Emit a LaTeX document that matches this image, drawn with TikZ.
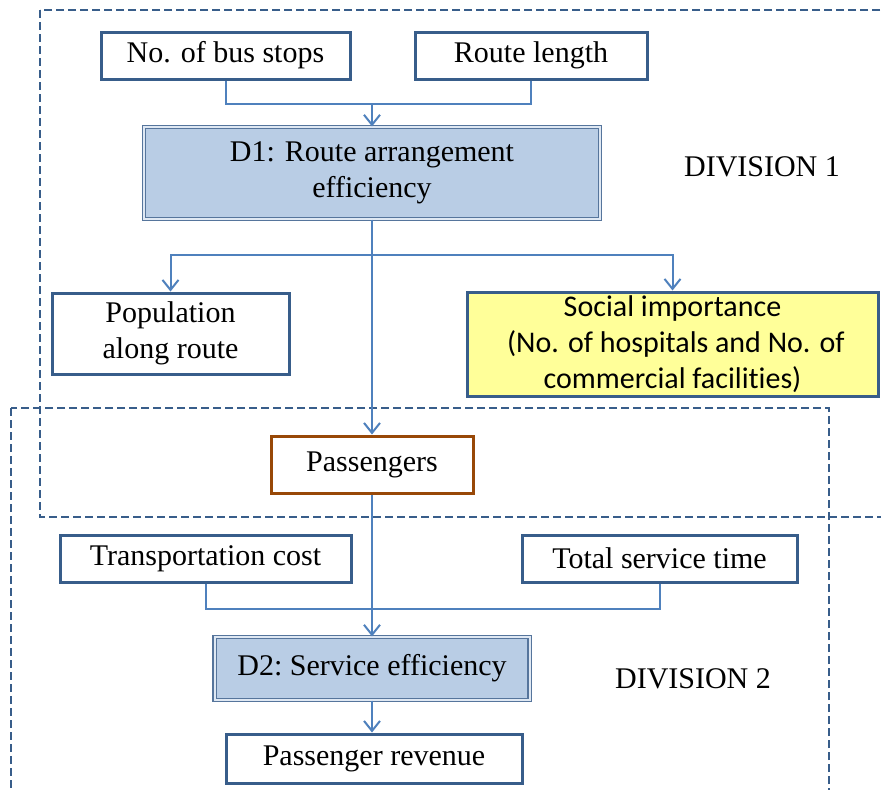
\documentclass[tikz,border=0pt]{standalone}
\usepackage{fontspec}
\setmainfont{Liberation Serif}
\newfontfamily\calib[Ligatures={NoCommon,NoDiscretionary,NoContextual}]{Carlito}
\usetikzlibrary{arrows.meta}
\definecolor{boxblue}{HTML}{385D8A}
\definecolor{linkblue}{HTML}{4F81BD}
\definecolor{dfill}{HTML}{B9CDE5}
\definecolor{syellow}{HTML}{FFFF99}
\definecolor{pbrown}{HTML}{984807}
\begin{document}
\begin{tikzpicture}[x=0.5pt,y=-0.5pt,font=\fontsize{15}{18}\selectfont,
  box/.style={draw=boxblue,line width=1.5pt,fill=white,inner sep=0pt,align=center},
  dbox/.style={draw=boxblue!85,line width=0.6pt,double=dfill!45,double distance=1pt,fill=dfill,inner sep=0pt,align=center},
  divbox/.style={draw=boxblue,line width=1pt,dash pattern=on 4pt off 2pt},
  conn/.style={draw=linkblue,line width=1pt},
  tip/.tip={Straight Barb[length=5pt,width=8pt,line width=1pt]}]
\clip (0,0) rectangle (881,789);
\fill[white] (0,0) rectangle (881,789);
% division frames
\draw[divbox] (40,10) rectangle (895,517);
\draw[divbox] (11,408) rectangle (829,805);
% nodes
\node[box,minimum width=124.5pt,minimum height=23.5pt] (bs) at (225.5,55.5) {No. of bus stops};
\node[box,minimum width=116pt,minimum height=23.5pt] (rl) at (531,55.5) {Route length};
\node[dbox,minimum width=228pt,minimum height=46pt] (d1) at (372,173) {D1: Route arrangement\\efficiency};
\node (div1) at (762,167) {DIVISION 1};
\node[box,minimum width=118.5pt,minimum height=40.5pt] (pop) at (170.5,333.5) {Population\\along route};
\node[box,fill=syellow,minimum width=205.5pt,minimum height=52pt,font=\calib\fontsize{15}{18}\selectfont] (soc) at (672.5,344) {Social importance\\\ (No. of hospitals and No. of\\commercial facilit\kern0pt ies)};
\node[box,draw=pbrown,minimum width=101pt,minimum height=28.5pt] (pas) at (372,464.5) {Passengers};
\node[box,minimum width=145.5pt,minimum height=23.5pt] (tc) at (205.5,558.5) {Transportation cost};
\node[box,minimum width=137.5pt,minimum height=23.5pt] (tst) at (659.5,558.5) {Total service time};
\node[dbox,minimum width=157.5pt,minimum height=31.5pt] (d2) at (372,668.5) {D2:\ Service efficiency};
\node (div2) at (693,679) {DIVISION 2};
\node[box,minimum width=148pt,minimum height=24.5pt] (rev) at (374,758.5) {Passenger revenue};
% junctions
\coordinate (j1) at (372,104);
\coordinate (j2) at (372,255);
\coordinate (j3) at (372,609);
% connectors
\draw[conn] (bs.south) |- (j1) -| (rl.south);
\draw[conn,-tip] (j1) -- (d1.north);
\draw[conn,-tip] (d1.south) -- (pas.north);
\draw[conn,-tip] (j2) -| (pop.north);
\draw[conn,-tip] (j2) -| (soc.north);
\draw[conn] (tc.south) |- (j3) -| (tst.south);
\draw[conn,-tip] (pas.south) -- (d2.north);
\draw[conn,-tip] (d2.south) -- (d2.south |- rev.north);
\end{tikzpicture}
\end{document}
